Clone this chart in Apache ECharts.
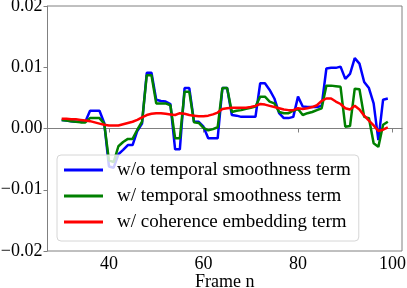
<!DOCTYPE html>
<html>
<head>
<meta charset="utf-8">
<script src="https://cdn.jsdelivr.net/npm/echarts@6/dist/echarts.min.js"></script>
<style>html,body{margin:0;padding:0;background:#fff;}#c{width:407px;height:288px;}</style>
</head>
<body>
<div id="c"></div>
<script>
var frames = [30,31,32,33,34,35,36,37,38,39,40,41,42,43,44,45,46,47,48,49,50,51,52,53,54,55,56,57,58,59,60,61,62,63,64,65,66,67,68,69,70,71,72,73,74,75,76,77,78,79,80,81,82,83,84,85,86,87,88,89,90,91,92,93,94,95,96,97,98,99];
var woTemporal = [0.0014,0.0013,0.0012,0.0011,0.0011,0.0011,0.0029,0.0029,0.0029,0.0009,-0.0062,-0.0064,-0.0042,-0.0035,-0.0027,-0.0027,-0.0004,0.0008,0.0091,0.0091,0.0047,0.0045,0.0044,0.0040,-0.0034,-0.0034,0.0066,0.0066,0.0011,0.0011,0.0003,-0.0016,-0.0016,-0.0016,0.0066,0.0066,0.0022,0.0021,0.0019,0.0019,0.0019,0.0019,0.0074,0.0074,0.0063,0.0049,0.0025,0.0017,0.0017,0.0019,0.0052,0.0036,0.0035,0.0035,0.0035,0.0037,0.0098,0.0099,0.0099,0.0101,0.0081,0.0089,0.0115,0.0106,0.0076,0.0066,0.0041,-0.0019,0.0047,0.0049];
var wTemporal = [0.0014,0.0013,0.0012,0.0011,0.0010,0.0010,0.0017,0.0017,0.0017,0.0008,-0.0052,-0.0055,-0.0029,-0.0022,-0.0017,-0.0017,-0.0002,0.0011,0.0087,0.0087,0.0041,0.0041,0.0041,0.0038,-0.0016,-0.0016,0.0060,0.0060,0.0010,0.0009,0.0001,-0.0003,-0.0001,0.0002,0.0066,0.0066,0.0027,0.0029,0.0030,0.0032,0.0034,0.0036,0.0052,0.0052,0.0044,0.0041,0.0027,0.0025,0.0025,0.0029,0.0032,0.0022,0.0025,0.0027,0.0030,0.0033,0.0070,0.0070,0.0069,0.0068,0.0003,0.0004,0.0065,0.0064,0.0019,0.0017,-0.0024,-0.0030,0.0006,0.0011];
var wCoherence = [0.0016,0.0016,0.0015,0.0015,0.0014,0.0013,0.0012,0.0010,0.0008,0.0006,0.0005,0.0005,0.0005,0.0007,0.0009,0.0011,0.0014,0.0018,0.0022,0.0024,0.0025,0.0025,0.0024,0.0023,0.0022,0.0025,0.0024,0.0022,0.0021,0.0020,0.0020,0.0021,0.0023,0.0026,0.0032,0.0033,0.0034,0.0034,0.0034,0.0034,0.0035,0.0037,0.0040,0.0039,0.0037,0.0035,0.0033,0.0031,0.0030,0.0030,0.0033,0.0032,0.0033,0.0035,0.0038,0.0045,0.0049,0.0049,0.0044,0.0040,0.0033,0.0031,0.0037,0.0031,0.0021,0.0013,0.0005,-0.0004,-0.0002,0.0002];
var seriesNames = ['w/o temporal smoothness term','w/ temporal smoothness term','w/ coherence embedding term'];
var seriesColors = ['#0000ff','#008000','#ff0000'];
var xTicks = [40,60,80,100];

function pairs(vals){ return frames.map(function(f,i){ return [f, vals[i]]; }); }
var allVals = [woTemporal, wTemporal, wCoherence];
var font = 'Liberation Serif, Times New Roman, serif';
var chart = echarts.init(document.getElementById('c'), null, {renderer:'canvas'});
chart.setOption({
  animation: false,
  backgroundColor: '#fff',
  grid: {left: 47.5, right: 5, top: 6, bottom: 37, show: true, borderColor: '#808080', borderWidth: 1, containLabel: false, outerBoundsMode: 'none'},
  xAxis: {
    type: 'value', min: 27, max: 102,
    name: 'Frame n', nameLocation: 'middle', nameGap: 22, nameMoveOverlap: false,
    nameTextStyle: {fontFamily: font, fontSize: 18, color: '#000'},
    axisLine: {show: true, lineStyle: {color: '#808080', width: 1}},
    axisTick: {show: true, length: 4, lineStyle: {color: '#808080'}, customValues: xTicks},
    axisLabel: {fontFamily: font, fontSize: 18, color: '#000', margin: 4, customValues: xTicks},
    splitLine: {show: false}
  },
  yAxis: {
    type: 'value', min: -0.02, max: 0.02, interval: 0.01,
    axisLine: {show: true, lineStyle: {color: '#808080', width: 1}},
    axisTick: {show: true, length: 4, lineStyle: {color: '#808080'}},
    axisLabel: {fontFamily: font, fontSize: 18, color: '#000', margin: 5,
      formatter: function(v){ var s = Math.abs(v).toFixed(2); return (v < -1e-9 ? '\u2212' : '') + s; }},
    splitLine: {show: false}
  },
  legend: {
    orient: 'vertical', left: 57, top: 155,
    data: seriesNames,
    icon: 'rect', itemWidth: 39, itemHeight: 3, itemGap: 6,
    backgroundColor: 'rgba(255,255,255,0.8)', borderColor: '#d6d6d6', borderWidth: 1, borderRadius: 4,
    padding: [5, 8, 9, 7],
    textStyle: {fontFamily: font, fontSize: 19, color: '#000', lineHeight: 20, padding: [0, 0, 0, 9]}
  },
  series: allVals.map(function(vals, i){
    return {
      name: seriesNames[i], type: 'line', data: pairs(vals),
      showSymbol: false, symbol: 'none',
      lineStyle: {color: seriesColors[i], width: 2.5},
      itemStyle: {color: seriesColors[i]}
    };
  })
});
</script>
</body>
</html>
